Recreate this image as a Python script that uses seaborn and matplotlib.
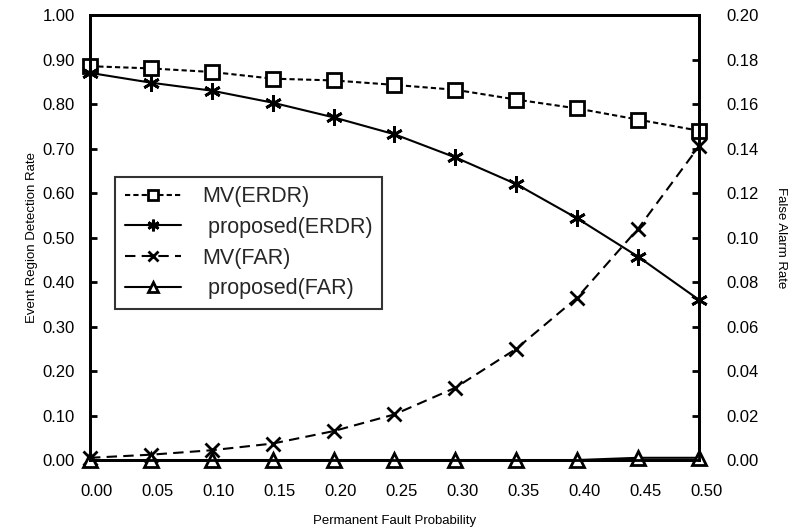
import matplotlib
matplotlib.use("Agg")
import matplotlib.pyplot as plt
import matplotlib.transforms as mtransforms
import seaborn as sns
import numpy as np

sns.set_theme(style="white")
plt.rcParams['font.family'] = ['Liberation Sans', 'DejaVu Sans']

prob = [0.00, 0.05, 0.10, 0.15, 0.20, 0.25, 0.30, 0.35, 0.40, 0.45, 0.50]
mv_erdr = [0.885, 0.880, 0.872, 0.857, 0.853, 0.843, 0.832, 0.810, 0.790, 0.765, 0.740]
prop_erdr = [0.870, 0.848, 0.830, 0.803, 0.770, 0.732, 0.680, 0.620, 0.543, 0.457, 0.360]
mv_far = [0.0010, 0.0024, 0.0044, 0.0074, 0.0130, 0.0205, 0.0325, 0.0500, 0.0730, 0.1040, 0.1410]
prop_far = [0.0, 0.0, 0.0, 0.0, 0.0, 0.0, 0.0, 0.0, 0.0, 0.0010, 0.0010]
xticks = [0.00, 0.05, 0.10, 0.15, 0.20, 0.25, 0.30, 0.35, 0.40, 0.45, 0.50]

fig = plt.figure(figsize=(7.92, 5.29), dpi=100)
ax = fig.add_axes([0.1136, 0.1304, 0.769, 0.8412])
ax2 = ax.twinx()

ms = 10
sns.lineplot(x=prob, y=mv_erdr, ax=ax, color='black', lw=1.5, marker='s', markersize=ms,
             markerfacecolor='white', markeredgecolor='black', markeredgewidth=2,
             dashes=(2.5, 1.5), label='MV(ERDR)', legend=False)
sns.lineplot(x=prob, y=prop_erdr, ax=ax, color='black', lw=1.5, marker=(6, 2, 0), markersize=ms + 2,
             markeredgecolor='black', markeredgewidth=2, label=' proposed(ERDR)', legend=False)
sns.lineplot(x=prob, y=mv_far, ax=ax2, color='black', lw=1.5, marker='x', markersize=ms,
             markeredgecolor='black', markeredgewidth=2, dashes=(5, 3),
             label='MV(FAR)', legend=False)
sns.lineplot(x=prob, y=prop_far, ax=ax2, color='black', lw=1.5, marker='^', markersize=ms,
             markerfacecolor='white', markeredgecolor='black', markeredgewidth=2,
             label=' proposed(FAR)', legend=False)

for a in (ax, ax2):
    for sp in a.spines.values():
        sp.set_linewidth(2)
        sp.set_color('black')
    for line in a.get_lines():
        line.set_clip_on(False)

ax.set_xlim(0, 0.5)
ax.set_ylim(0, 1.0)
ax2.set_ylim(0, 0.20)
ax.set_xticks(xticks)
ax.set_xticklabels([f"{v:.2f}" for v in xticks])
ax.set_yticks(np.arange(0, 1.01, 0.1))
ax.set_yticklabels([f"{v:.2f}" for v in np.arange(0, 1.01, 0.1)])
ax2.set_yticks(np.arange(0, 0.201, 0.02))
ax2.set_yticklabels([f"{v:.2f}" for v in np.arange(0, 0.201, 0.02)])

ax.tick_params(axis='y', direction='in', length=5, width=2, labelsize=12, pad=11, colors='black')
ax.tick_params(axis='x', length=0, labelsize=12, pad=17, colors='black')
ax2.tick_params(axis='y', direction='in', length=5, width=2, labelsize=12, pad=20, colors='black')

shift = mtransforms.ScaledTranslation(7 / 100, 0, fig.dpi_scale_trans)
for lab in ax.get_xticklabels():
    lab.set_transform(lab.get_transform() + shift)

ax.set_xlabel('Permanent Fault Probability', fontsize=9.5, labelpad=12, color='black')
ax.set_ylabel('Event Region Detection Rate', fontsize=9.5, labelpad=3, color='black')
ax2.set_ylabel('False Alarm Rate', fontsize=9.5, rotation=270, labelpad=20, color='black')

h1, l1 = ax.get_legend_handles_labels()
h2, l2 = ax2.get_legend_handles_labels()
leg = ax2.legend(h1 + h2, l1 + l2, loc='upper left', bbox_to_anchor=(0.041, 0.637),
                 fontsize=15.5, frameon=True, fancybox=False, handlelength=2.6,
                 markerscale=0.7, borderpad=0.45, labelspacing=0.45, handletextpad=1.0,
                 borderaxespad=0)
leg.get_frame().set_edgecolor('black')
leg.get_frame().set_linewidth(1.5)

fig.savefig('out.png', dpi=100)
